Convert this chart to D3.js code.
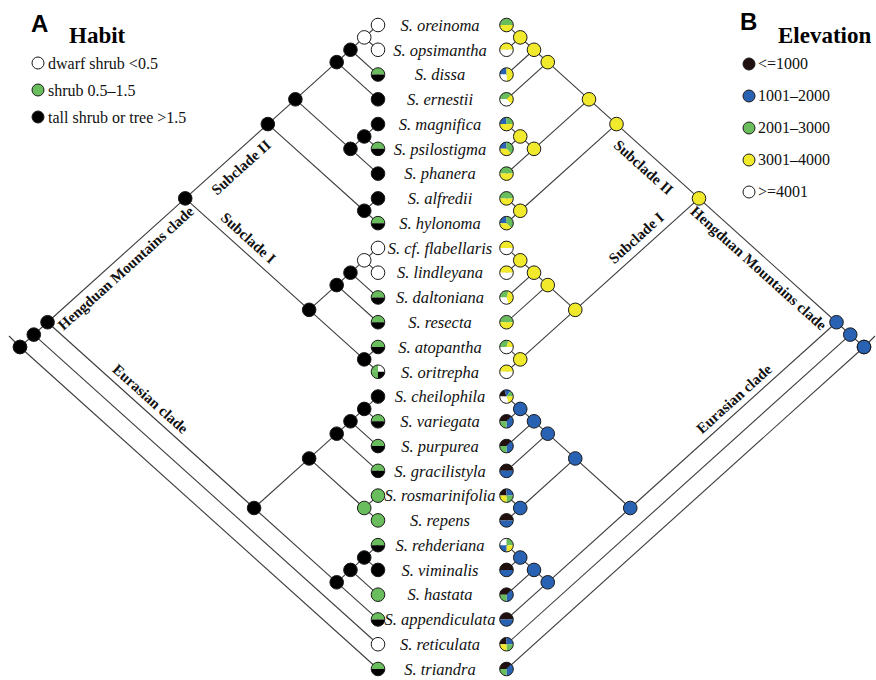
<!DOCTYPE html>
<html>
<head>
<meta charset="utf-8">
<script src="https://cdn.jsdelivr.net/npm/d3@7"></script>
<style>
  body { margin: 0; background: #fff; }
  svg { display: block; }
</style>
</head>
<body>
<svg id="chart" width="876" height="680"></svg>
<script>
// ---- Taxa (top to bottom) ----
const tipNames = [
  "S. oreinoma", "S. opsimantha", "S. dissa", "S. ernestii", "S. magnifica",
  "S. psilostigma", "S. phanera", "S. alfredii", "S. hylonoma",
  "S. cf. flabellaris", "S. lindleyana", "S. daltoniana", "S. resecta",
  "S. atopantha", "S. oritrepha", "S. cheilophila", "S. variegata",
  "S. purpurea", "S. gracilistyla", "S. rosmarinifolia", "S. repens",
  "S. rehderiana", "S. viminalis", "S. hastata", "S. appendiculata",
  "S. reticulata", "S. triandra"
];

// Topology; leaves are tip indices, internal labels = habit state + elevation state
const newick =
  "((((((((((0,1)wY,2)bY,3)bY,((4,5)bY,6)bY)bY,(7,8)bY)bY," +
  "((((9,10)wY,11)bY,12)bY,(13,14)bY)bY)bY," +
  "(((((15,16)bB,17)bB,18)bB,(19,20)gB)bB,(((21,22)bB,23)bB,24)bB)bB)bB,25)bB,26)bB";

// Habit at the tips: slices listed clockwise from 9 o'clock
const habitTips = [
  [["w",1]], [["w",1]], [["g",1],["b",1]], [["b",1]], [["b",1]],
  [["g",1],["b",1]], [["b",1]], [["b",1]], [["g",1],["b",1]],
  [["w",1]], [["w",1]], [["g",1],["b",1]], [["g",1],["b",1]],
  [["g",1],["b",1]], [["g",1],["w",1],["b",1],["g",1]],
  [["b",1]], [["g",1],["b",1]], [["g",1],["b",1]], [["g",1],["b",1]],
  [["g",1]], [["g",1]], [["g",1],["b",1]], [["b",1]], [["g",1]],
  [["g",1],["b",1]], [["w",1]], [["g",1],["b",1]]
];

// Elevation at the tips: slices listed clockwise from 9 o'clock
const elevTips = [
  [["G",1],["Y",1]],
  [["Y",1],["W",1]],
  [["B",1],["Y",2],["W",1]],
  [["G",3],["Y",2],["W",3]],
  [["B",1],["G",1],["Y",2]],
  [["B",2],["G",3],["Y",3]],
  [["G",1],["Y",1]],
  [["G",1],["Y",1]],
  [["B",2],["G",3],["Y",3]],
  [["Y",1],["W",1]],
  [["Y",1],["W",1]],
  [["G",3],["Y",4],["W",3]],
  [["G",1],["Y",1]],
  [["G",3],["Y",2],["W",5]],
  [["Y",1],["W",1]],
  [["K",2],["B",1.5],["G",1.5],["Y",2],["W",3]],
  [["K",3],["B",3],["G",2]],
  [["K",3],["B",3],["G",2]],
  [["K",1],["B",1]],
  [["K",1],["B",1],["G",1],["Y",1]],
  [["K",1],["B",1]],
  [["W",1],["G",1],["Y",1],["B",1]],
  [["K",1],["B",1]],
  [["K",3],["B",3],["G",2]],
  [["K",1],["B",1]],
  [["K",1],["B",1],["G",1],["Y",1]],
  [["K",3],["B",3],["G",2]]
];

// Legends
const habitKeys = ["w", "g", "b"];
const habitLabels = ["dwarf shrub <0.5", "shrub 0.5\u20131.5", "tall shrub or tree >1.5"];
const elevKeys = ["K", "B", "G", "Y", "W"];
const elevLabels = ["<=1000", "1001\u20132000", "2001\u20133000", "3001\u20134000", ">=4001"];

// Named clades: first and last tip of each
const cladeNames = ["Subclade II", "Subclade I", "Hengduan Mountains clade", "Eurasian clade"];
const cladeRanges = [[0, 8], [9, 14], [0, 14], [15, 24]];

// ---- Styling ----
const colour = {
  w: "#ffffff", g: "#6abd5c", b: "#000000",
  K: "#22100f", B: "#2a62b3", G: "#6abd5c", Y: "#f1e92c", W: "#ffffff"
};
const LINE = "#3c3c3c";
const R = 6.8;
const serif = "'Liberation Serif','Times New Roman',serif";
const sans = "'Liberation Sans',Arial,sans-serif";

// ---- Newick parser ----
function parseTree(s) {
  let i = 0;
  function node() {
    const n = {};
    if (s[i] === "(") {
      i++;
      n.children = [node()];
      while (s[i] === ",") { i++; n.children.push(node()); }
      i++;
    }
    let lab = "";
    while (i < s.length && !",()".includes(s[i])) lab += s[i++];
    if (n.children) { n.habit = lab[0]; n.elev = lab[1]; }
    else n.tip = +lab;
    return n;
  }
  return node();
}

const root = d3.hierarchy(parseTree(newick));

const rowY = d3.scalePoint().domain(d3.range(tipNames.length)).range([25, 669]);

// Slanted cladogram: each node sits at the middle of its tip span,
// pushed away from the tips in proportion to half the span.
root.eachAfter(d => {
  if (!d.children) { d.top = d.bottom = rowY(d.data.tip); }
  else {
    d.top = d3.min(d.children, c => c.top);
    d.bottom = d3.max(d.children, c => c.bottom);
  }
  d.yPos = (d.top + d.bottom) / 2;
  d.half = (d.bottom - d.top) / 2;
});
const maxHalf = root.half;

const xLeft = d3.scaleLinear().domain([0, maxHalf]).range([378, 20]);
const xRight = d3.scaleLinear().domain([0, maxHalf]).range([506.5, 864]);

const svg = d3.select("#chart");

const pie = d3.pie().sort(null).value(d => d[1])
  .startAngle(-Math.PI / 2).endAngle(1.5 * Math.PI);
const arc = d3.arc().innerRadius(0).outerRadius(R);

function drawTree(xs, tipData, stateKey, stemDir) {
  const g = svg.append("g");
  // branches
  g.selectAll("line.branch")
    .data(root.descendants().filter(d => d.parent))
    .join("line")
    .attr("x1", d => xs(d.parent.half)).attr("y1", d => d.parent.yPos)
    .attr("x2", d => xs(d.half)).attr("y2", d => d.yPos)
    .attr("stroke", LINE).attr("stroke-width", 1.1);
  // root stem
  g.append("line")
    .attr("x1", xs(root.half)).attr("y1", root.yPos)
    .attr("x2", xs(root.half) + stemDir * 11).attr("y2", root.yPos - 11)
    .attr("stroke", LINE).attr("stroke-width", 1.1);
  // internal nodes
  g.selectAll("circle.node")
    .data(root.descendants().filter(d => d.children))
    .join("circle")
    .attr("cx", d => xs(d.half)).attr("cy", d => d.yPos).attr("r", R)
    .attr("fill", d => colour[d.data[stateKey]])
    .attr("stroke", "#1a1a1a").attr("stroke-width", 1);
  // tip pies
  const tips = g.selectAll("g.tip")
    .data(root.leaves())
    .join("g")
    .attr("transform", d => `translate(${xs(0)},${d.yPos})`);
  tips.selectAll("path")
    .data(d => pie(tipData[d.data.tip]))
    .join("path")
    .attr("d", arc)
    .attr("fill", d => colour[d.data[0]]);
  tips.append("circle")
    .attr("r", R).attr("fill", "none")
    .attr("stroke", "#1a1a1a").attr("stroke-width", 1);
}

drawTree(xLeft, habitTips, "habit", -1);
drawTree(xRight, elevTips, "elev", 1);

// tip names
svg.append("g").selectAll("text")
  .data(root.leaves())
  .join("text")
  .attr("x", 440).attr("y", d => d.yPos).attr("dy", "0.35em")
  .attr("text-anchor", "middle")
  .attr("font-family", serif).attr("font-style", "italic")
  .attr("font-size", 16.5).attr("fill", "#111")
  .text(d => tipNames[d.data.tip]);

// clade labels along their stem branches (left tree, mirrored on the right)
const cladeT = [0.56, 0.44, 0.51, 0.46];
const cladeOff = [14, -13, 12, -12];
const mirror = 378 + 506.5;
cladeNames.forEach((name, i) => {
  const node = root.descendants().find(d => d.children &&
    d.top === rowY(cladeRanges[i][0]) && d.bottom === rowY(cladeRanges[i][1]));
  const p = node.parent;
  const px = xLeft(p.half), py = p.yPos, cx = xLeft(node.half), cy = node.yPos;
  const len = Math.hypot(cx - px, cy - py);
  const ux = (cx - px) / len, uy = (cy - py) / len;
  const nx = -uy, ny = ux; // perpendicular pointing down
  const lx = px + cladeT[i] * (cx - px) + cladeOff[i] * nx;
  const ly = py + cladeT[i] * (cy - py) + cladeOff[i] * ny;
  const ang = Math.atan2(uy, ux) * 180 / Math.PI;
  [[lx, ang], [mirror - lx, -ang]].forEach(([x, a]) => {
    svg.append("text")
      .attr("transform", `translate(${x},${ly}) rotate(${a})`)
      .attr("dy", "0.35em").attr("text-anchor", "middle")
      .attr("font-family", serif).attr("font-weight", "bold")
      .attr("font-size", 15).attr("fill", "#111")
      .text(name);
  });
});

// ---- Legends ----
svg.append("text").attr("x", 31).attr("y", 32)
  .attr("font-family", sans).attr("font-weight", "bold").attr("font-size", 24)
  .text("A");
svg.append("text").attr("x", 69).attr("y", 43)
  .attr("font-family", serif).attr("font-weight", "bold").attr("font-size", 23)
  .text("Habit");
const habitY = d3.scalePoint().domain(habitKeys).range([63, 117]);
const hl = svg.append("g").selectAll("g").data(habitKeys).join("g")
  .attr("transform", d => `translate(38,${habitY(d)})`);
hl.append("circle").attr("r", 6).attr("fill", d => colour[d])
  .attr("stroke", "#1a1a1a").attr("stroke-width", 1);
hl.append("text").attr("x", 10).attr("dy", "0.35em")
  .attr("font-family", serif).attr("font-size", 16).attr("fill", "#111")
  .text((d, i) => habitLabels[i]);

svg.append("text").attr("x", 740).attr("y", 30)
  .attr("font-family", sans).attr("font-weight", "bold").attr("font-size", 24)
  .text("B");
svg.append("text").attr("x", 778).attr("y", 43)
  .attr("font-family", serif).attr("font-weight", "bold").attr("font-size", 23)
  .text("Elevation");
const elevY = d3.scalePoint().domain(elevKeys).range([64, 192]);
const el = svg.append("g").selectAll("g").data(elevKeys).join("g")
  .attr("transform", d => `translate(749,${elevY(d)})`);
el.append("circle").attr("r", 6).attr("fill", d => colour[d])
  .attr("stroke", "#1a1a1a").attr("stroke-width", 1);
el.append("text").attr("x", 9).attr("dy", "0.3em")
  .attr("font-family", serif).attr("font-size", 16).attr("fill", "#111")
  .text((d, i) => elevLabels[i]);
</script>
</body>
</html>
